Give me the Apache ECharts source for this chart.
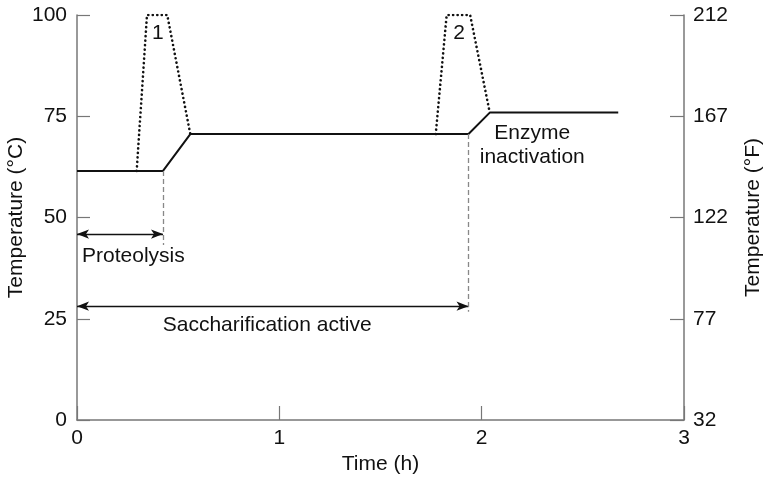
<!DOCTYPE html>
<html>
<head>
<meta charset="utf-8">
<script src="https://cdn.jsdelivr.net/npm/echarts@6/dist/echarts.min.js"></script>
<style>
  html, body { margin: 0; padding: 0; background: #fff; }
  #chart { width: 764px; height: 478px; }
</style>
</head>
<body>
<div id="chart"></div>
<script>
// 糖化温度曲线 数据
const mashTimes = [0, 0.425, 0.56, 1.935, 2.04, 2.675];
const mashTemps = [61.5, 61.5, 70.6, 70.6, 75.9, 75.9];
const decoct1Times = [0.295, 0.346, 0.446, 0.56];
const decoct1Temps = [61.5, 100, 100, 70.6];
const decoct2Times = [1.773, 1.827, 1.943, 2.04];
const decoct2Temps = [70.6, 100, 100, 75.9];

const xTicks = [0, 1, 2, 3];
const celsiusTicks = [0, 25, 50, 75, 100];
const fahrenheitTicks = [32, 77, 122, 167, 212];

// 箭头区间 [起点, 终点, 温度]
const proteolysisSpan = [0, 0.425, 45.9];
const saccharSpan = [0, 1.935, 28.1];
// 虚线 [时间, 上端, 下端]
const dropLines = [[0.425, 61.5, 43.2], [1.935, 70.6, 26.7]];

// 文字标注 [时间, 温度, 文本]
const annotations = [
    [0.40, 95.5, '1'],
    [1.888, 95.5, '2'],
    [0.025, 40.5, 'Proteolysis'],
    [0.94, 23.5, 'Saccharification active'],
    [2.25, 67.9, 'Enzyme\ninactivation']
];

const pairs = (xs, ys) => xs.map((x, i) => [x, ys[i]]);

const axisGray = '#777';
const ink = '#111';
const font = 'Liberation Sans, Arial, sans-serif';
const fs = 21;

const options = {
    animation: false,
    textStyle: { fontFamily: font },
    grid: { left: 77, right: 80, top: 15, bottom: 58, containLabel: false, outerBoundsMode: 'none' },
    xAxis: {
        type: 'value',
        min: 0, max: 3, interval: 1,
        name: 'Time (h)',
        nameLocation: 'middle',
        nameGap: 34,
        nameMoveOverlap: false,
        nameTextStyle: { fontSize: fs, color: ink, fontFamily: font },
        axisLine: { onZero: false, lineStyle: { color: axisGray, width: 1.5 } },
        axisTick: { inside: true, length: 14, lineStyle: { color: axisGray, width: 1.2 } },
        axisLabel: { fontSize: fs, color: ink, margin: 8, fontFamily: font,
            formatter: v => xTicks.includes(v) ? String(v) : '' },
        splitLine: { show: false }
    },
    yAxis: [
        {
            type: 'value',
            min: 0, max: 100, interval: 25,
            name: 'Temperature (°C)',
            nameLocation: 'middle',
            nameGap: 50,
            nameMoveOverlap: false,
            nameRotate: 90,
            nameTextStyle: { fontSize: fs, color: ink, fontFamily: font },
            axisLine: { show: true, lineStyle: { color: axisGray, width: 1.5 } },
            axisTick: { show: true, inside: true, length: 13, lineStyle: { color: axisGray, width: 1.2 } },
            axisLabel: { fontSize: fs, color: ink, margin: 10, fontFamily: font,
                formatter: v => celsiusTicks.includes(v) ? String(v) : '' },
            splitLine: { show: false }
        },
        {
            type: 'value',
            position: 'right',
            min: 32, max: 212, interval: 45,
            name: 'Temperature (°F)',
            nameLocation: 'middle',
            nameGap: 59,
            nameRotate: 90,
            nameTextStyle: { fontSize: fs, color: ink, fontFamily: font },
            axisLine: { show: true, lineStyle: { color: axisGray, width: 1.5 } },
            axisTick: { show: true, inside: true, length: 14, lineStyle: { color: axisGray, width: 1.2 } },
            axisLabel: { fontSize: fs, color: ink, margin: 9, fontFamily: font,
                formatter: v => fahrenheitTicks.includes(v) ? String(v) : '' },
            splitLine: { show: false }
        }
    ],
    series: [
        {
            name: 'decoction 1',
            type: 'line',
            data: pairs(decoct1Times, decoct1Temps),
            showSymbol: false,
            lineStyle: { color: ink, width: 2.6, type: [0.1, 4.4], cap: 'round', join: 'round' },
            z: 2
        },
        {
            name: 'decoction 2',
            type: 'line',
            data: pairs(decoct2Times, decoct2Temps),
            showSymbol: false,
            lineStyle: { color: ink, width: 2.6, type: [0.1, 4.4], cap: 'round', join: 'round' },
            z: 2
        },
        {
            name: 'mash',
            type: 'line',
            data: pairs(mashTimes, mashTemps),
            showSymbol: false,
            lineStyle: { color: ink, width: 2 },
            z: 3,
            markLine: {
                silent: true,
                animation: false,
                label: { show: false },
                emphasis: { disabled: true },
                data: [
                    [
                        { coord: [proteolysisSpan[0], proteolysisSpan[2]], symbol: 'arrow' },
                        { coord: [proteolysisSpan[1], proteolysisSpan[2]], symbol: 'arrow' }
                    ],
                    [
                        { coord: [saccharSpan[0], saccharSpan[2]], symbol: 'arrow' },
                        { coord: [saccharSpan[1], saccharSpan[2]], symbol: 'arrow' }
                    ]
                ].map(d => { d[0].lineStyle = { color: ink, width: 1.3, type: 'solid' }; return d; })
                .concat(dropLines.map(l => [
                    { coord: [l[0], l[1]], symbol: 'none', lineStyle: { color: '#888', width: 1.3, type: [5, 3] } },
                    { coord: [l[0], l[2]], symbol: 'none' }
                ])),
                symbolSize: [7, 12]
            }
        },
        {
            name: 'labels',
            type: 'scatter',
            symbolSize: 0,
            silent: true,
            itemStyle: { opacity: 1, color: ink },
            data: annotations.map(a => ({
                value: [a[0], a[1]],
                label: {
                    show: true,
                    position: 'inside',
                    formatter: a[2],
                    fontSize: fs,
                    lineHeight: 24,
                    color: ink,
                    opacity: 1,
                    textBorderWidth: 0,
                    fontFamily: font,
                    align: a[2] === 'Proteolysis' ? 'left' : 'center',
                    verticalAlign: 'middle'
                }
            }))
        }
    ]
};

const E = echarts.init(document.getElementById('chart'));
window.onresize = function () {
    E.resize();
};
E.setOption(options);
</script>
</body>
</html>
